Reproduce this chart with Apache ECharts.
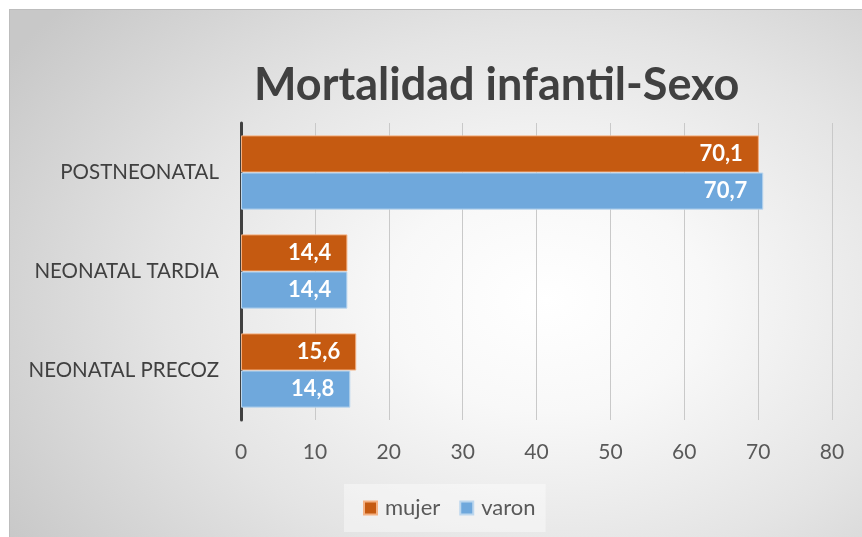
<!DOCTYPE html>
<html>
<head>
<meta charset="utf-8">
<script src="https://cdn.jsdelivr.net/npm/echarts@6/dist/echarts.min.js"></script>
<style>
  html, body { margin: 0; padding: 0; background: #fff; }
  #frame {
    position: absolute; left: 9px; top: 9px; width: 853px; height: 528px;
    border-left: 1px solid #bdbdbd; border-top: 1px solid #bdbdbd;
    box-sizing: border-box;
    background: radial-gradient(ellipse 75% 85% at 63% 55%, #ffffff 0%, #f8f8f8 25%, #e4e4e4 60%, #c8c8c8 100%);
  }
  #chart { width: 100%; height: 100%; }
</style>
</head>
<body>
<div id="frame"><div id="chart"></div></div>
<script>
// categories listed bottom to top (category axis runs upward)
var categorias = ['NEONATAL PRECOZ', 'NEONATAL TARDIA', 'POSTNEONATAL'];
var mujer = [15.6, 14.4, 70.1];
var varon = [14.8, 14.4, 70.7];
var ticks = [0, 10, 20, 30, 40, 50, 60, 70, 80];

var fuente = 'Lato, "Open Sans", sans-serif';
var grafico = echarts.init(document.getElementById('chart'));

function etiqueta(p) { return String(p.value).replace('.', ','); }

grafico.setOption({
  backgroundColor: 'transparent',
  title: {
    text: 'Mortalidad infantil-Sexo',
    left: 244, top: 53,
    textStyle: { fontFamily: fuente, fontSize: 45, fontWeight: 'bold', color: '#404040' },
    padding: 0, itemGap: 0
  },
  grid: { left: 231, right: 30, top: 113, bottom: 117, containLabel: false },
  legend: {
    data: ['mujer', 'varon'],
    top: 474, left: 334,
    itemWidth: 13, itemHeight: 13, itemGap: 19,
    icon: 'rect',
    textStyle: { fontFamily: fuente, fontSize: 22, color: '#595959', padding: [0, 0, 0, 3] },
    backgroundColor: 'rgba(255,255,255,0.4)', padding: [13, 10, 13, 19]
  },
  xAxis: {
    type: 'value', min: ticks[0], max: ticks[ticks.length - 1], interval: 10,
    axisLine: { show: false }, axisTick: { show: false },
    axisLabel: { fontFamily: fuente, fontSize: 21, color: '#595959', margin: 22 },
    splitLine: { lineStyle: { color: '#c9c9c9', width: 1 } }
  },
  yAxis: {
    type: 'category', data: categorias,
    axisLine: { lineStyle: { color: '#404040', width: 3 } },
    axisTick: { show: false },
    axisLabel: { fontFamily: fuente, fontSize: 20.5, color: '#404040', margin: 22 }
  },
  series: [
    {
      name: 'mujer', type: 'bar', data: mujer,
      barGap: '0%', barCategoryGap: '25%',
      itemStyle: { color: '#C55A11', borderColor: '#F4B183', borderWidth: 1 },
      label: { show: true, position: 'insideRight', distance: 16, formatter: etiqueta,
        fontFamily: fuente, fontSize: 22, fontWeight: 'bold', color: '#fff' }
    },
    {
      name: 'varon', type: 'bar', data: varon,
      barGap: '0%', barCategoryGap: '25%',
      itemStyle: { color: '#6FA8DC', borderColor: '#BDD7EE', borderWidth: 1 },
      label: { show: true, position: 'insideRight', distance: 16, formatter: etiqueta,
        fontFamily: fuente, fontSize: 22, fontWeight: 'bold', color: '#fff' }
    }
  ]
});
</script>
</body>
</html>
